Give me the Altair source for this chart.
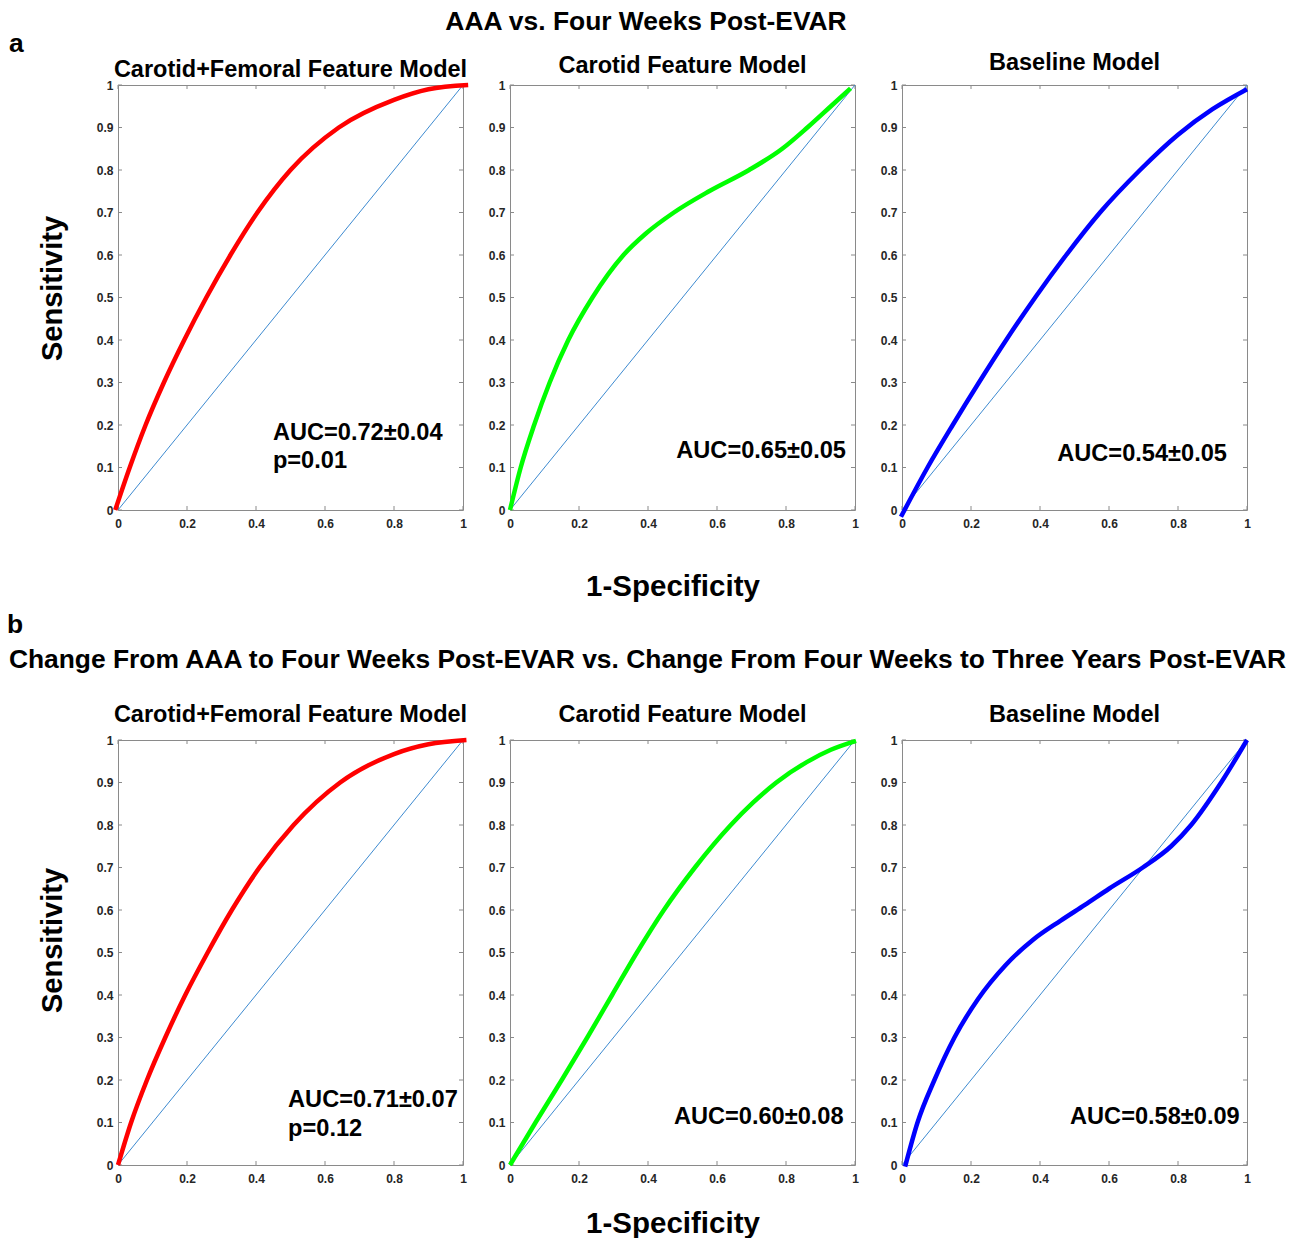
import altair as alt
import pandas as pd

FONT = "Liberation Sans"

# ---------------- data ----------------
x_ticks = [0, 0.2, 0.4, 0.6, 0.8, 1]
y_ticks = [0, 0.1, 0.2, 0.3, 0.4, 0.5, 0.6, 0.7, 0.8, 0.9, 1]
diag_x = [0, 1]
diag_y = [0, 1]

row_titles = [
    "AAA vs. Four Weeks Post-EVAR",
    "Change From AAA to Four Weeks Post-EVAR vs. Change From Four Weeks to Three Years Post-EVAR",
]
row_letters = ["a", "b"]
model_names = ["Carotid+Femoral Feature Model", "Carotid Feature Model", "Baseline Model"]
auc_labels_a = ["AUC=0.72±0.04", "AUC=0.65±0.05", "AUC=0.54±0.05"]
auc_labels_b = ["AUC=0.71±0.07", "AUC=0.60±0.08", "AUC=0.58±0.09"]
p_labels = ["p=0.01", "p=0.12"]
x_title = "1-Specificity"
y_title = "Sensitivity"

# row a (AAA vs. four weeks post-EVAR)
a_cf_fpr = [-0.008, 0.034, 0.08, 0.133, 0.192, 0.256, 0.326, 0.404, 0.5, 0.64, 0.8, 0.9, 1.015]
a_cf_tpr = [0, 0.1, 0.2, 0.3, 0.4, 0.5, 0.6, 0.7, 0.8, 0.9, 0.965, 0.99, 1.0]
a_c_fpr = [0, 0.031, 0.07, 0.115, 0.169, 0.239, 0.329, 0.393, 0.475, 0.577, 0.693, 0.789, 0.862, 0.93, 0.987]
a_c_tpr = [0, 0.1, 0.2, 0.3, 0.4, 0.5, 0.6, 0.65, 0.7, 0.75, 0.8, 0.85, 0.9, 0.95, 0.992]
a_b_fpr = [-0.003, 0.074, 0.147, 0.223, 0.302, 0.386, 0.476, 0.574, 0.69, 0.8, 0.9, 1.0]
a_b_tpr = [-0.016, 0.1, 0.2, 0.3, 0.4, 0.5, 0.6, 0.7, 0.8, 0.883, 0.943, 0.99]

# row b (change AAA->4 weeks vs. change 4 weeks->3 years)
b_cf_fpr = [0, 0.038, 0.084, 0.137, 0.195, 0.26, 0.33, 0.41, 0.509, 0.644, 0.8, 0.9, 1.01]
b_cf_tpr = [0, 0.1, 0.2, 0.3, 0.4, 0.5, 0.6, 0.7, 0.8, 0.9, 0.967, 0.99, 1.0]
b_c_fpr = [0, 0.074, 0.15, 0.224, 0.296, 0.368, 0.446, 0.536, 0.64, 0.705, 0.772, 0.86, 0.93, 1.003]
b_c_tpr = [0, 0.1, 0.2, 0.3, 0.4, 0.5, 0.6, 0.7, 0.8, 0.853, 0.9, 0.948, 0.977, 0.998]
b_b_fpr = [0.009, 0.045, 0.094, 0.152, 0.22, 0.3, 0.38, 0.46, 0.53, 0.6, 0.698, 0.78, 0.838, 0.925, 1.0]
b_b_tpr = [-0.004, 0.1, 0.2, 0.3, 0.39, 0.47, 0.53, 0.575, 0.612, 0.65, 0.7, 0.75, 0.8, 0.9, 1.0]

curve_colors = ["#FF0000", "#00FF00", "#0000FF"]

# ---------------- styling / layout ----------------
W, H = 345, 425
TL = 4
FRAME = "#8a8a8a"
LABEL = "#262626"
DIAG = "#3d8ad0"


def label_layer(s, x, y, size, align):
    return alt.Chart(pd.DataFrame({"label": [s]})).mark_text(
        align=align, baseline="alphabetic", font=FONT, fontSize=size,
        fontWeight="bold", color="black").encode(
        x=alt.value(x), y=alt.value(y), text="label:N")


def make_panel(fpr, tpr, color, title, t_y, auc, auc_xy, p=None, p_y=None,
               ytitle_y=None, xtitle_y=None, heading=None, letter=None):
    xs = alt.Scale(domain=[0, 1], nice=False, zero=False)
    ys = alt.Scale(domain=[0, 1], nice=False, zero=False)
    common = dict(ticks=False, tickSize=0, domain=False, grid=False, labelFont=FONT,
                  labelFontSize=12, labelFontWeight="bold", labelColor=LABEL,
                  labelFlush=False, labelOverlap=False, format="~g")
    if xtitle_y is not None:
        xax = alt.Axis(values=x_ticks, title=x_title, titleFont=FONT, titleFontSize=29.5,
                       titleFontWeight="bold", titleColor="black", titleX=162.5,
                       titleY=xtitle_y, titleAlign="center", titleBaseline="alphabetic",
                       labelPadding=8, **common)
    else:
        xax = alt.Axis(values=x_ticks, title=None, labelPadding=8, **common)
    if ytitle_y is not None:
        yax = alt.Axis(values=y_ticks, title=y_title, titleFont=FONT, titleFontSize=29,
                       titleFontWeight="bold", titleColor="black", titleX=-57,
                       titleY=ytitle_y, titleAngle=270, titleAlign="center",
                       titleBaseline="alphabetic", labelPadding=5, **common)
    else:
        yax = alt.Axis(values=y_ticks, title=None, labelPadding=5, **common)

    X = alt.X("x:Q", scale=xs, axis=xax)
    Y = alt.Y("y:Q", scale=ys, axis=yax)

    xt = pd.DataFrame({"x": x_ticks})
    yt = pd.DataFrame({"y": y_ticks})
    rule = dict(color=FRAME, strokeWidth=1)
    layers = [
        alt.Chart(xt).mark_rule(**rule).encode(x=X, y=alt.value(H), y2=alt.value(H - TL)),
        alt.Chart(xt).mark_rule(**rule).encode(x=X, y=alt.value(0), y2=alt.value(TL)),
        alt.Chart(yt).mark_rule(**rule).encode(y=Y, x=alt.value(0), x2=alt.value(TL)),
        alt.Chart(yt).mark_rule(**rule).encode(y=Y, x=alt.value(W), x2=alt.value(W - TL)),
        alt.Chart(pd.DataFrame({"x": diag_x, "y": diag_y})).mark_line(
            color=DIAG, strokeWidth=1).encode(x=X, y=Y),
        alt.Chart(pd.DataFrame({"x": fpr, "y": tpr})).mark_line(
            color=color, strokeWidth=4.5, interpolate="monotone").encode(x=X, y=Y),
    ]

    def txt(s, x, y):
        return alt.Chart(pd.DataFrame({"label": [s]})).mark_text(
            align="left", baseline="alphabetic", font=FONT, fontSize=23.6,
            fontWeight="bold", color="black").encode(
            x=alt.XDatum(x, scale=xs, axis=xax), y=alt.YDatum(y, scale=ys, axis=yax),
            text="label:N")

    layers.append(txt(auc, auc_xy[0], auc_xy[1]))
    if p is not None:
        layers.append(txt(p, auc_xy[0], p_y))
    # panel title
    layers.append(label_layer(title, W / 2, t_y, 23.5, "center"))
    if heading is not None:
        layers.append(label_layer(heading[0], heading[1], heading[2], 26.4, "center"))
    if letter is not None:
        layers.append(label_layer(letter[0], letter[1], letter[2], 26.4, "left"))

    return alt.layer(*layers).properties(width=W, height=H)


panels = [
    make_panel(a_cf_fpr, a_cf_tpr, curve_colors[0], model_names[0], -8, auc_labels_a[0],
               (0.449, 0.165), p=p_labels[0], p_y=0.098, ytitle_y=203,
               letter=(row_letters[0], -109, -33)),
    make_panel(a_c_fpr, a_c_tpr, curve_colors[1], model_names[1], -12, auc_labels_a[1],
               (0.482, 0.122), xtitle_y=85, heading=(row_titles[0], 136, -55)),
    make_panel(a_b_fpr, a_b_tpr, curve_colors[2], model_names[2], -15, auc_labels_a[2],
               (0.45, 0.115)),
    make_panel(b_cf_fpr, b_cf_tpr, curve_colors[0], model_names[0], -18, auc_labels_b[0],
               (0.493, 0.136), p=p_labels[1], p_y=0.068, ytitle_y=200,
               letter=(row_letters[1], -111, -107)),
    make_panel(b_c_fpr, b_c_tpr, curve_colors[1], model_names[1], -18, auc_labels_b[1],
               (0.475, 0.096), xtitle_y=67, heading=(row_titles[1], 137.5, -72)),
    make_panel(b_b_fpr, b_b_tpr, curve_colors[2], model_names[2], -18, auc_labels_b[2],
               (0.487, 0.096)),
]

chart = alt.concat(
    *panels, columns=3, spacing={"row": 230, "column": 47}, bounds="flush"
).properties(
    padding={"left": -2, "top": 0, "right": 0, "bottom": 0}, background="white"
).configure_view(stroke=FRAME, strokeWidth=1)

chart.save("out.html", embed_options={"renderer": "svg", "actions": False})
